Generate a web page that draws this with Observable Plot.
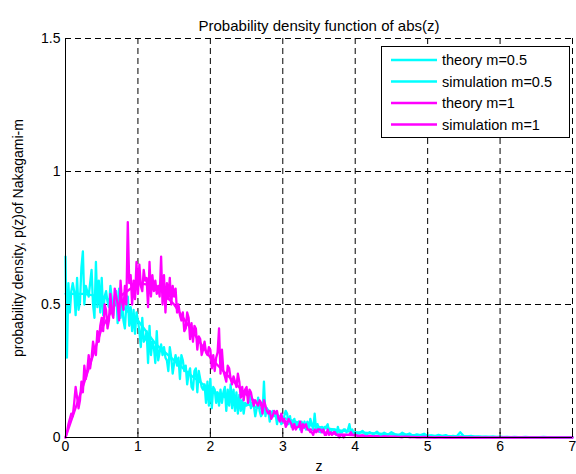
<!DOCTYPE html>
<html>
<head>
<meta charset="utf-8">
<script src="https://cdn.jsdelivr.net/npm/d3@7"></script>
<script src="https://cdn.jsdelivr.net/npm/@observablehq/plot@0.6"></script>
<style>
  html, body { margin: 0; padding: 0; background: #fff; }
  #wrap { position: relative; width: 576px; height: 474px; font-family: "Liberation Sans", Arial, sans-serif; }
  #legend { position: absolute; left: 381px; top: 46px; }
</style>
</head>
<body>
<div id="wrap"></div>
<script>
// ---- data ----
const xTicks = [0, 1, 2, 3, 4, 5, 6, 7];
const yTicks = [0, 0.5, 1, 1.5];
const titleText = "Probability density function of abs(z)";
const xLabel = "z";
const yLabel = "probability density, p(z)of Nakagami-m";
const seriesNames = ["theory m=0.5", "simulation m=0.5", "theory m=1", "simulation m=1"];
const seriesColors = ["#00FFFF", "#00FFFF", "#FF00FF", "#FF00FF"];

// theory curves (smooth), sampled at these z values
const theoryZ = [0, 0.25, 0.5, 0.75, 1, 1.25, 1.5, 1.75, 2, 2.25, 2.5, 2.75, 3, 3.25, 3.5, 3.75, 4, 4.5, 5, 5.5, 6, 6.5, 7];
const theoryM05 = [0.54, 0.54, 0.53, 0.5, 0.44, 0.35, 0.29, 0.23, 0.18, 0.145, 0.125, 0.105, 0.075, 0.053, 0.04, 0.028, 0.02, 0.012, 0.007, 0.004, 0.002, 0.001, 0.0005];
const theoryM1  = [0, 0.2, 0.41, 0.53, 0.58, 0.57, 0.5, 0.4, 0.3, 0.23, 0.16, 0.11, 0.065, 0.04, 0.022, 0.013, 0.008, 0.003, 0.001, 0, 0, 0, 0];

// simulated histograms: z from 0 to 4 in steps of 0.02, then 4.05 to 7 in steps of 0.05
const simStepA = 0.02;
const simStartB = 4.05, simStepB = 0.05;
const simM05 = [
  0.68,0.30,0.58,0.47,0.55, 0.58,0.55,0.46,0.60,0.48,
  0.51,0.64,0.70,0.50,0.57, 0.55,0.53,0.58,0.63,0.50,
  0.45,0.66,0.49,0.59,0.47, 0.60,0.46,0.53,0.55,0.51,
  0.49,0.57,0.52,0.46,0.53, 0.55,0.43,0.56,0.45,0.51,
  0.44,0.41,0.50,0.53,0.42, 0.49,0.40,0.48,0.39,0.47,
  0.44,0.40,0.34,0.45,0.36, 0.37,0.40,0.28,0.42,0.31,
  0.36,0.34,0.28,0.40,0.29, 0.32,0.35,0.31,0.34,0.30,
  0.29,0.25,0.34,0.30,0.24, 0.28,0.31,0.27,0.30,0.22,
  0.31,0.29,0.25,0.27,0.20, 0.24,0.26,0.19,0.18,0.25,
  0.26,0.17,0.25,0.22,0.19, 0.18,0.20,0.13,0.21,0.12,
  0.22,0.11,0.19,0.18,0.13, 0.17,0.12,0.18,0.13,0.17,
  0.19,0.10,0.18,0.12,0.20, 0.11,0.18,0.10,0.17,0.09,
  0.16,0.10,0.14,0.09,0.13, 0.12,0.13,0.17,0.11,0.13,
  0.12,0.08,0.11,0.15,0.10, 0.08,0.09,0.21,0.08,0.11,
  0.10,0.06,0.09,0.10,0.08, 0.09,0.05,0.08,0.07,0.05,
  0.06,0.08,0.10,0.09,0.05, 0.08,0.04,0.06,0.07,0.04,
  0.05,0.06,0.03,0.06,0.04, 0.06,0.03,0.06,0.03,0.07,
  0.05,0.03,0.09,0.03,0.05, 0.03,0.02,0.04,0.02,0.04,
  0.04,0.05,0.02,0.02,0.03, 0.03,0.03,0.01,0.04,0.02,
  0.02,0.02,0.03,0.03,0.02, 0.03,0.05,0.02,0.03,0.01,
  0.02
];
const simM05Tail = [
  0.015, 0.025, 0.010, 0.020, 0.012, 0.022, 0.008, 0.018, 0.010, 0.020,
  0.012, 0.007, 0.018, 0.010, 0.015, 0.006, 0.012, 0.009, 0.014, 0.006,
  0.008, 0.004, 0.010, 0.005, 0.009, 0.003, 0.006, 0.004, 0.020, 0.005,
  0.004, 0.006, 0.002, 0.003, 0.001, 0.002, 0.001, 0.003, 0.001, 0.002,
  0.001, 0.002, 0.001, 0.002, 0.001, 0.001, 0.002, 0.001, 0.000, 0.001,
  0.001, 0.002, 0.001, 0.000, 0.001, 0.001, 0.000, 0.001, 0.000, 0.000
];
const simM1 = [
  0.00,0.02,0.05,0.07,0.09, 0.08,0.13,0.19,0.15,0.11,
  0.14,0.21,0.17,0.27,0.22, 0.25,0.31,0.26,0.30,0.36,
  0.33,0.31,0.40,0.36,0.42, 0.45,0.40,0.50,0.48,0.41,
  0.44,0.54,0.47,0.45,0.56, 0.53,0.50,0.44,0.59,0.51,
  0.48,0.57,0.50,0.81,0.58, 0.61,0.50,0.59,0.52,0.66,
  0.54,0.65,0.57,0.55,0.63, 0.59,0.60,0.49,0.66,0.53,
  0.61,0.55,0.59,0.54,0.57, 0.53,0.68,0.50,0.61,0.47,
  0.58,0.52,0.60,0.50,0.57, 0.53,0.56,0.47,0.50,0.46,
  0.44,0.47,0.40,0.41,0.47, 0.45,0.37,0.43,0.36,0.42,
  0.41,0.33,0.38,0.37,0.31, 0.33,0.36,0.32,0.31,0.34,
  0.33,0.26,0.31,0.25,0.30, 0.32,0.41,0.24,0.33,0.25,
  0.23,0.21,0.27,0.26,0.22, 0.20,0.23,0.21,0.19,0.24,
  0.21,0.15,0.19,0.14,0.18, 0.19,0.13,0.18,0.17,0.14,
  0.12,0.14,0.13,0.12,0.14, 0.13,0.09,0.14,0.12,0.10,
  0.09,0.10,0.07,0.08,0.10, 0.09,0.10,0.07,0.06,0.09,
  0.06,0.07,0.04,0.05,0.07, 0.06,0.05,0.03,0.05,0.03,
  0.04,0.04,0.06,0.02,0.05, 0.04,0.05,0.03,0.03,0.02,
  0.02,0.01,0.03,0.02,0.03, 0.03,0.03,0.02,0.03,0.01,
  0.01,0.03,0.01,0.02,0.01, 0.02,0.02,0.01,0.01,0.00,
  0.01,0.01,0.00,0.01,0.01, 0.01,0.01,0.02,0.01,0.01,
  0.01
];
const simM1Tail = [
  0.005, 0.008, 0.004, 0.006, 0.003, 0.005, 0.002, 0.004, 0.003, 0.002,
  0.003, 0.002, 0.001, 0.003, 0.001, 0.002, 0.001, 0.001, 0.002, 0.001,
  0.001, 0.000, 0.001, 0.001, 0.000, 0.001, 0.000, 0.000, 0.001, 0.000,
  0.000, 0.000, 0.000, 0.000, 0.000, 0.000, 0.000, 0.000, 0.000, 0.000,
  0.000, 0.000, 0.000, 0.000, 0.000, 0.000, 0.000, 0.000, 0.000, 0.000,
  0.000, 0.000, 0.000, 0.000, 0.000, 0.000, 0.000, 0.000, 0.000, 0.000
];

// ---- build tables ----
function simTable(head, tail) {
  const a = head.map((v, i) => ({z: i * simStepA, p: v}));
  const b = tail.map((v, i) => ({z: simStartB + i * simStepB, p: v}));
  return a.concat(b);
}
const t05 = theoryZ.map((z, i) => ({z, p: theoryM05[i]}));
const t1 = theoryZ.map((z, i) => ({z, p: theoryM1[i]}));
const s05 = simTable(simM05, simM05Tail);
const s1 = simTable(simM1, simM1Tail);

const font = "'Liberation Sans', Arial, sans-serif";
const dash = "6,4";
const lineW = 2.3;

const chart = Plot.plot({
  width: 576,
  height: 474,
  marginLeft: 65,
  marginRight: 4,
  marginTop: 38,
  marginBottom: 37,
  style: {fontFamily: font, fontSize: "14px", color: "#000", background: "#fff", overflow: "visible"},
  x: {domain: [0, 7]},
  y: {domain: [0, 1.5]},
  marks: [
    Plot.gridX(xTicks, {stroke: "#000", strokeOpacity: 1, strokeDasharray: dash}),
    Plot.gridY(yTicks, {stroke: "#000", strokeOpacity: 1, strokeDasharray: dash}),
    Plot.line(t05, {x: "z", y: "p", stroke: seriesColors[0], strokeWidth: lineW}),
    Plot.line(t1, {x: "z", y: "p", stroke: seriesColors[2], strokeWidth: lineW}),
    Plot.line(s05, {x: "z", y: "p", stroke: seriesColors[1], strokeWidth: lineW}),
    Plot.line(s1, {x: "z", y: "p", stroke: seriesColors[3], strokeWidth: lineW}),
    Plot.ruleX([0], {stroke: "#000"}),
    Plot.ruleY([0], {stroke: "#000"}),
    Plot.axisX({ticks: xTicks, tickSize: -5, tickPadding: 9, tickFormat: d => String(d), fontSize: 14,
      label: xLabel, labelAnchor: "center", labelArrow: "none", labelOffset: 33}),
    Plot.axisY({ticks: yTicks, tickSize: -5, tickPadding: 10, tickFormat: d => String(d), fontSize: 14,
      label: yLabel, labelAnchor: "center", labelArrow: "none", labelOffset: 52}),
    Plot.text([titleText], {frameAnchor: "top", dy: -18, fontSize: 15, fill: "#000", text: d => d})
  ]
});
document.getElementById("wrap").appendChild(chart);

// ---- legend (MATLAB-style boxed legend) ----
const lw = 189, lh = 92;
const leg = d3.select("#wrap").append("svg")
  .attr("id", "legend").attr("width", lw).attr("height", lh)
  .style("font-family", font).style("font-size", "14.5px");
leg.append("rect").attr("x", 0.5).attr("y", 0.5).attr("width", lw - 1).attr("height", lh - 1)
  .attr("fill", "#fff").attr("stroke", "#000");
seriesNames.forEach((name, i) => {
  const cy = 14 + i * 21.5;
  leg.append("line").attr("x1", 10).attr("x2", 56).attr("y1", cy).attr("y2", cy)
    .attr("stroke", seriesColors[i]).attr("stroke-width", 2.5);
  leg.append("text").attr("x", 61).attr("y", cy).attr("dy", "0.35em").attr("fill", "#000").text(name);
});
</script>
</body>
</html>
